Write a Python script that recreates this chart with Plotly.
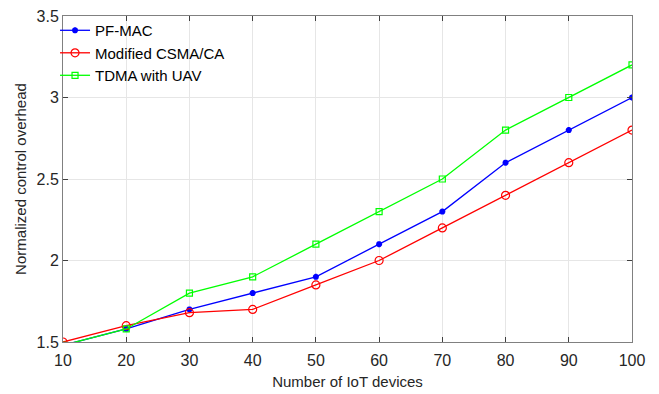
import plotly.graph_objects as go

devices = [10, 20, 30, 40, 50, 60, 70, 80, 90, 100]
pf_mac = [1.48, 1.58, 1.70, 1.80, 1.90, 2.10, 2.30, 2.60, 2.80, 3.00]
csma_ca = [1.50, 1.60, 1.68, 1.70, 1.85, 2.00, 2.20, 2.40, 2.60, 2.80]
tdma_uav = [1.48, 1.58, 1.80, 1.90, 2.10, 2.30, 2.50, 2.80, 3.00, 3.20]
y_ticks = [1.5, 2, 2.5, 3, 3.5]
y_labels = ["1.5", "2", "2.5", "3", "3.5"]

fig = go.Figure()
fig.add_trace(go.Scatter(x=devices, y=pf_mac, name="PF-MAC", mode="lines+markers",
                         line=dict(color="#0000ff", width=1.3),
                         marker=dict(symbol="asterisk", size=5, color="#0000ff",
                                     line=dict(color="#0000ff", width=2))))
fig.add_trace(go.Scatter(x=devices, y=csma_ca, name="Modified CSMA/CA", mode="lines+markers",
                         line=dict(color="#ff0000", width=1.3),
                         marker=dict(symbol="circle-open", size=8, color="#ff0000",
                                     line=dict(width=1.2))))
fig.add_trace(go.Scatter(x=devices, y=tdma_uav, name="TDMA with UAV", mode="lines+markers",
                         line=dict(color="#00ff00", width=1.3),
                         marker=dict(symbol="square-open", size=6, color="#00ff00",
                                     line=dict(width=1.2))))

axis_common = dict(showgrid=True, gridcolor="#e6e6e6", gridwidth=1,
                   showline=True, linecolor="#808080", linewidth=1, mirror="ticks",
                   ticks="inside", ticklen=5, tickcolor="#404040", zeroline=False,
                   ticklabeloverflow="allow",
                   tickfont=dict(family="Liberation Sans, Arial", size=16, color="#262626"))

fig.update_layout(
    width=659, height=394,
    margin=dict(l=55, r=35, t=8, b=60, autoexpand=False),
    paper_bgcolor="white", plot_bgcolor="white",
    font=dict(family="Liberation Sans, Arial", size=15, color="#262626"),
    xaxis=dict(range=[10, 100], tickvals=devices, ticklabelstandoff=4,
               title=dict(text="Number of IoT devices", standoff=8, font=dict(size=15)),
               **axis_common),
    yaxis=dict(range=[1.5, 3.5], tickvals=y_ticks, ticktext=y_labels,
               title=dict(text="Normalized control overhead", standoff=6, font=dict(size=15)),
               **axis_common),
    legend=dict(x=-0.014, y=1.006, xanchor="left", yanchor="top",
                bgcolor="rgba(0,0,0,0)", borderwidth=0,
                font=dict(size=15, color="#000000"), tracegroupgap=0,
                itemwidth=30),
    showlegend=True,
)

fig.write_html("out.html")
